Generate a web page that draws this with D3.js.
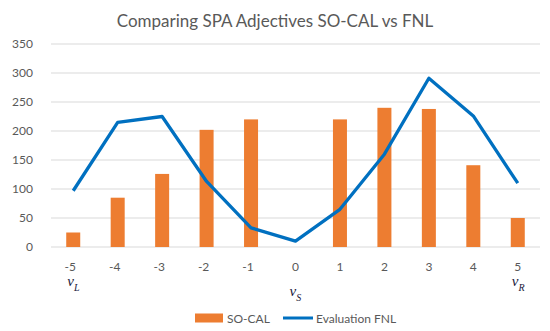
<!DOCTYPE html>
<html>
<head>
<meta charset="utf-8">
<script src="https://cdn.jsdelivr.net/npm/d3@7"></script>
<style>
  body { margin: 0; background: #fff; }
  text { font-family: Lato, "Open Sans", sans-serif; fill: #595959; }
</style>
</head>
<body>
<script>
const categories = [-5, -4, -3, -2, -1, 0, 1, 2, 3, 4, 5];
const socal = [25, 85, 126, 202, 220, 0, 220, 240, 238, 141, 50];
const fnl = [97, 215, 225, 113, 33, 10, 65, 160, 291, 226, 110];
const yTicks = [0, 50, 100, 150, 200, 250, 300, 350];
const pointLabels = [
  {cat: -5, sub: "L", drop: 0},
  {cat: 0, sub: "S", drop: 10},
  {cat: 5, sub: "R", drop: 0}
];

const W = 550, H = 331;
const margin = {top: 44, right: 10, bottom: 84, left: 51},
    width = W - margin.left - margin.right,
    height = H - margin.top - margin.bottom;

let svg = d3.select("body").append("svg")
    .attr("width", W)
    .attr("height", H);

svg.append("text")
    .attr("x", W / 2)
    .attr("y", 27)
    .attr("text-anchor", "middle")
    .style("font-size", "17px")
    .text("Comparing SPA Adjectives SO-CAL vs FNL");

let g = svg.append("g")
    .attr("transform", "translate(" + margin.left + "," + margin.top + ")");

// scales
const x = d3.scaleBand().domain(categories).range([0, width]);
const y = d3.scaleLinear().domain([0, 350]).range([height, 0]);

// grid
g.selectAll(".grid")
    .data(yTicks)
    .enter().append("line")
    .attr("x1", 0).attr("x2", width)
    .attr("y1", d => y(d)).attr("y2", d => y(d))
    .style("stroke", "#d9d9d9")
    .style("stroke-width", 1);

// y labels
g.selectAll(".ylab")
    .data(yTicks)
    .enter().append("text")
    .attr("x", -18)
    .attr("y", d => y(d) + 4)
    .attr("text-anchor", "end")
    .style("font-size", "12px")
    .text(d => d);

// x labels
g.selectAll(".xlab")
    .data(categories)
    .enter().append("text")
    .attr("x", d => x(d) + x.bandwidth() / 2 - (d < 0 ? 3 : 0))
    .attr("y", height + 24)
    .attr("text-anchor", "middle")
    .style("font-size", "12px")
    .text(d => d);

// bars
const barW = x.bandwidth() * 0.315;
g.selectAll(".bar")
    .data(categories.map((c, i) => ({cat: c, v: socal[i]})))
    .enter().append("rect")
    .attr("x", d => x(d.cat) + x.bandwidth() / 2 - barW / 2)
    .attr("width", barW)
    .attr("y", d => y(d.v))
    .attr("height", d => height - y(d.v))
    .style("fill", "#ed7d31");

// line
const fnlLine = d3.line()
    .x(d => x(d.cat) + x.bandwidth() / 2)
    .y(d => y(d.v));

g.append("path")
    .datum(categories.map((c, i) => ({cat: c, v: fnl[i]})))
    .attr("d", fnlLine)
    .style("fill", "none")
    .style("stroke", "#0070c0")
    .style("stroke-width", 3.3)
    .style("stroke-linejoin", "round");

// v_L, v_S, v_R annotations
let pl = g.selectAll(".plab")
    .data(pointLabels)
    .enter().append("text")
    .attr("x", d => x(d.cat) + x.bandwidth() / 2 - 6)
    .attr("y", d => height + 39 + d.drop)
    .style("font-family", "'Liberation Serif', 'DejaVu Serif', serif")
    .style("font-style", "italic")
    .style("fill", "#1a1a3a")
    .style("font-size", "15px");
pl.append("tspan").text("v");
pl.append("tspan")
    .attr("dy", 5)
    .style("font-size", "10px")
    .text(d => d.sub);

// legend
let leg = svg.append("g").attr("transform", "translate(0,318)");
leg.append("rect")
    .attr("x", 195).attr("y", -4.5)
    .attr("width", 28).attr("height", 9)
    .style("fill", "#ed7d31");
leg.append("text")
    .attr("x", 227).attr("y", 4.5)
    .style("font-size", "12px")
    .text("SO-CAL");
leg.append("line")
    .attr("x1", 283).attr("x2", 313)
    .attr("y1", 0).attr("y2", 0)
    .style("stroke", "#0070c0")
    .style("stroke-width", 3);
leg.append("text")
    .attr("x", 316).attr("y", 4.5)
    .style("font-size", "12px")
    .text("Evaluation FNL");
</script>
</body>
</html>
